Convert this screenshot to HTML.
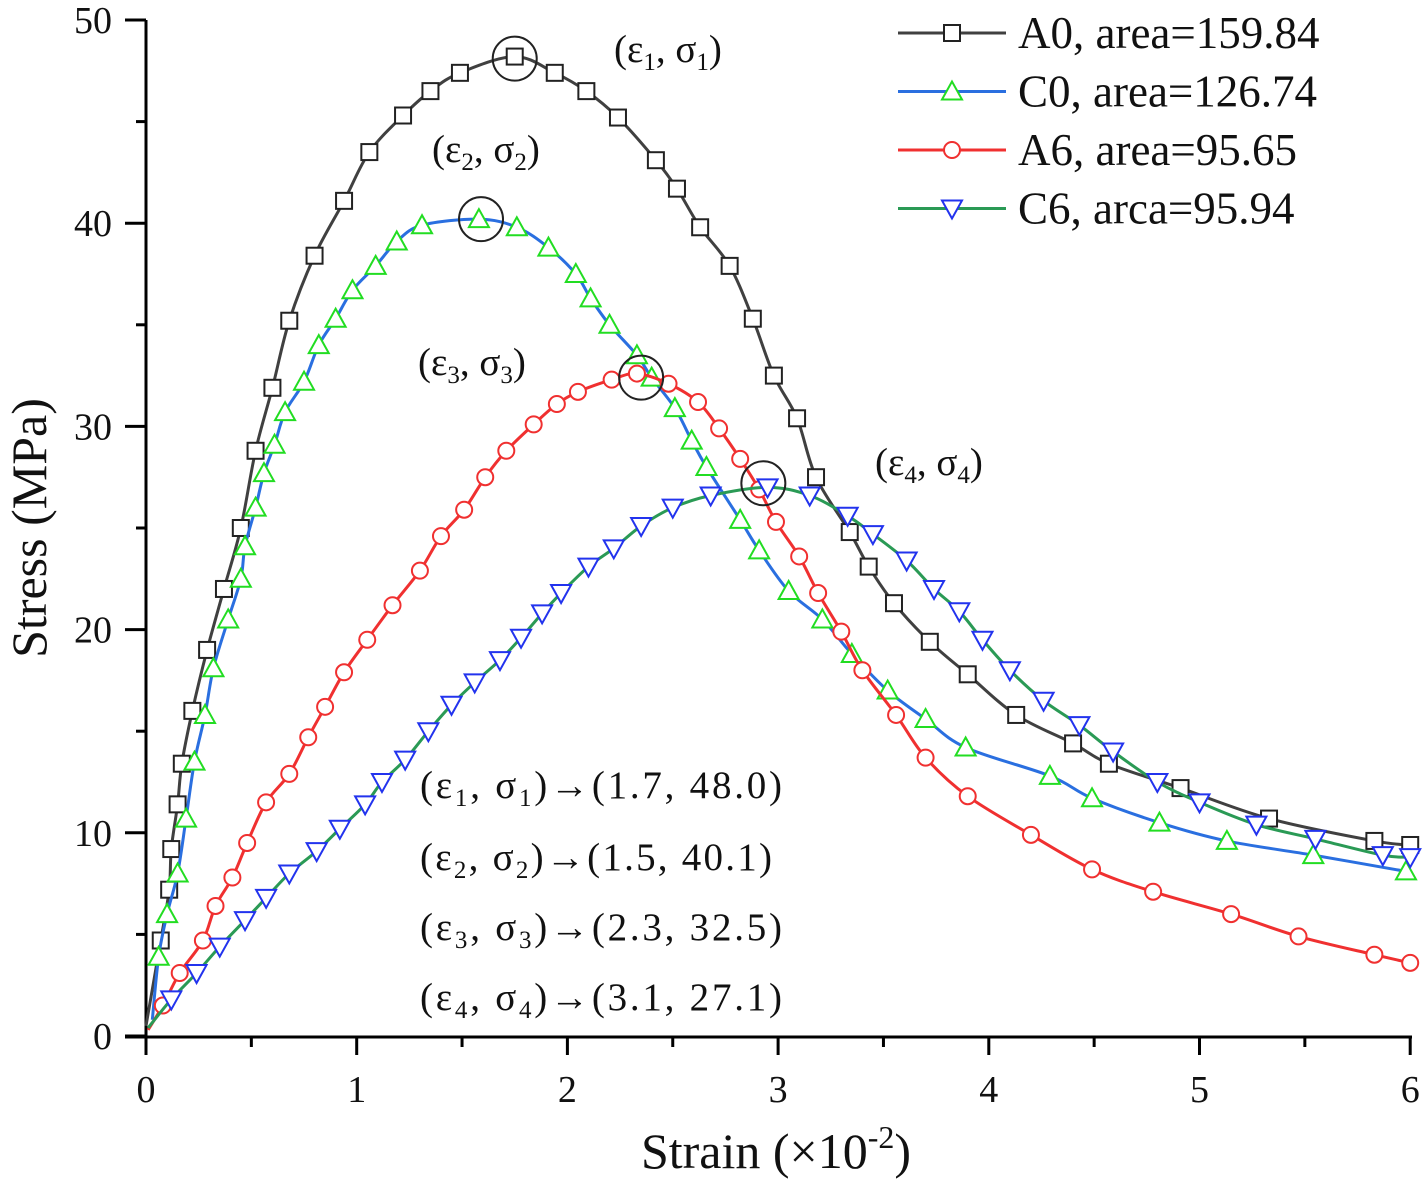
<!DOCTYPE html>
<html><head><meta charset="utf-8"><style>
body{margin:0;background:#fff}
svg text{font-family:"Liberation Serif","DejaVu Serif",serif;fill:#111}
</style></head><body>
<svg id="chart" width="1425" height="1185" viewBox="0 0 1425 1185" xmlns="http://www.w3.org/2000/svg" font-family="Liberation Serif, DejaVu Serif, serif">
<g id="axes"></g>
<g id="series"></g>
<g id="anno" font-family="Liberation Serif, serif">
<text x="614" y="62" font-size="39">(ε<tspan font-size="25" dy="8">1</tspan><tspan dy="-8">, σ</tspan><tspan font-size="25" dy="8">1</tspan><tspan dy="-8">)</tspan></text>
<text x="432" y="162" font-size="39">(ε<tspan font-size="25" dy="8">2</tspan><tspan dy="-8">, σ</tspan><tspan font-size="25" dy="8">2</tspan><tspan dy="-8">)</tspan></text>
<text x="418" y="375" font-size="39">(ε<tspan font-size="25" dy="8">3</tspan><tspan dy="-8">, σ</tspan><tspan font-size="25" dy="8">3</tspan><tspan dy="-8">)</tspan></text>
<text x="875" y="475" font-size="39">(ε<tspan font-size="25" dy="8">4</tspan><tspan dy="-8">, σ</tspan><tspan font-size="25" dy="8">4</tspan><tspan dy="-8">)</tspan></text>
<text x="420" y="798" font-size="39" textLength="362">(ε<tspan font-size="25" dy="8">1</tspan><tspan dy="-8">, σ</tspan><tspan font-size="25" dy="8">1</tspan><tspan dy="-8">)→(1.7, 48.0)</tspan></text>
<text x="420" y="870" font-size="39" textLength="352">(ε<tspan font-size="25" dy="8">2</tspan><tspan dy="-8">, σ</tspan><tspan font-size="25" dy="8">2</tspan><tspan dy="-8">)→(1.5, 40.1)</tspan></text>
<text x="420" y="940" font-size="39" textLength="362">(ε<tspan font-size="25" dy="8">3</tspan><tspan dy="-8">, σ</tspan><tspan font-size="25" dy="8">3</tspan><tspan dy="-8">)→(2.3, 32.5)</tspan></text>
<text x="420" y="1010" font-size="39" textLength="362">(ε<tspan font-size="25" dy="8">4</tspan><tspan dy="-8">, σ</tspan><tspan font-size="25" dy="8">4</tspan><tspan dy="-8">)→(3.1, 27.1)</tspan></text>
</g>
<g id="legend"></g>
</svg>
<script>
const a0X=[0,0.07,0.11,0.12,0.15,0.17,0.22,0.29,0.37,0.45,0.52,0.60,0.68,0.80,0.94,1.06,1.22,1.35,1.49,1.75,1.94,2.09,2.24,2.42,2.52,2.63,2.77,2.88,2.98,3.09,3.18,3.34,3.43,3.55,3.72,3.90,4.13,4.40,4.57,4.91,5.33,5.83,6.0];
const a0Y=[0.5,4.7,7.2,9.2,11.4,13.4,16.0,19.0,22.0,25.0,28.8,31.9,35.2,38.4,41.1,43.5,45.3,46.5,47.4,48.2,47.4,46.5,45.2,43.1,41.7,39.8,37.9,35.3,32.5,30.4,27.5,24.8,23.1,21.3,19.4,17.8,15.8,14.4,13.4,12.2,10.7,9.6,9.4];
const c0X=[0.03,0.06,0.10,0.15,0.19,0.23,0.28,0.32,0.39,0.45,0.47,0.52,0.56,0.61,0.66,0.75,0.82,0.90,0.98,1.09,1.19,1.31,1.58,1.76,1.91,2.04,2.11,2.20,2.33,2.40,2.51,2.59,2.66,2.82,2.91,3.05,3.21,3.35,3.52,3.70,3.89,4.29,4.49,4.81,5.13,5.54,5.98];
const c0Y=[0.8,3.9,6.0,8.0,10.7,13.5,15.8,18.1,20.5,22.5,24.1,26.0,27.7,29.1,30.7,32.2,34.0,35.3,36.7,37.9,39.1,39.9,40.2,39.8,38.8,37.5,36.3,35.0,33.5,32.4,30.9,29.3,28.0,25.4,23.9,21.9,20.5,18.8,17.0,15.6,14.2,12.8,11.7,10.5,9.6,8.9,8.1];
const a6X=[0.01,0.08,0.16,0.27,0.33,0.41,0.48,0.57,0.68,0.77,0.85,0.94,1.05,1.17,1.30,1.40,1.51,1.61,1.71,1.84,1.95,2.05,2.21,2.33,2.48,2.62,2.72,2.82,2.91,2.99,3.10,3.19,3.30,3.40,3.56,3.70,3.90,4.20,4.49,4.78,5.15,5.47,5.83,6.0];
const a6Y=[0.3,1.5,3.1,4.7,6.4,7.8,9.5,11.5,12.9,14.7,16.2,17.9,19.5,21.2,22.9,24.6,25.9,27.5,28.8,30.1,31.1,31.7,32.3,32.6,32.1,31.2,29.9,28.4,26.9,25.3,23.6,21.8,19.9,18.0,15.8,13.7,11.8,9.9,8.2,7.1,6.0,4.9,4.0,3.6];
const c6X=[0.01,0.12,0.24,0.35,0.47,0.57,0.68,0.81,0.92,1.04,1.12,1.23,1.34,1.45,1.56,1.68,1.78,1.88,1.97,2.10,2.22,2.35,2.50,2.68,2.95,3.15,3.33,3.45,3.61,3.74,3.86,3.97,4.10,4.26,4.43,4.59,4.80,5.00,5.27,5.55,5.87,6.0];
const c6Y=[0.4,1.8,3.1,4.4,5.7,6.8,8.0,9.1,10.2,11.4,12.5,13.6,15.0,16.3,17.4,18.5,19.6,20.8,21.8,23.1,24.0,25.1,26.0,26.6,27.0,26.6,25.6,24.7,23.4,22.0,20.9,19.5,18.0,16.5,15.3,14.0,12.5,11.5,10.4,9.7,8.9,8.8];
const peakX=[1.75,1.59,2.35,2.93];
const peakY=[48.1,40.2,32.4,27.2];
const xTicks=[0,1,2,3,4,5,6];
const yTicks=[0,10,20,30,40,50];
const legendLabels=["A0, area=159.84","C0, area=126.74","A6, area=95.65","C6, arca=95.94"];

const NS="http://www.w3.org/2000/svg";
const sx=v=>146+v*210.7, sy=v=>1036-v*20.32;
function mk(tag,attrs,parent){const e=document.createElementNS(NS,tag);for(const k in attrs)e.setAttribute(k,attrs[k]);parent.appendChild(e);return e;}
const axes=document.getElementById('axes');
let ax=mk('line',{x1:146,y1:20,x2:146,y2:1037,stroke:'#000','stroke-width':3},axes);


ax=mk('line',{x1:125,y1:1037,x2:1412,y2:1037,stroke:'#000','stroke-width':3},axes);


xTicks.forEach((t,i)=>{
 mk('line',{x1:sx(t),y1:1037,x2:sx(t),y2:1055,stroke:'#000','stroke-width':3},axes);
 if(i<xTicks.length-1)mk('line',{x1:sx(t+0.5),y1:1037,x2:sx(t+0.5),y2:1047,stroke:'#000','stroke-width':3},axes);
 const tx=mk('text',{x:sx(t),y:1102,'font-size':38,'text-anchor':'middle'},axes);tx.textContent=t;
 
 
});
yTicks.forEach((t,i)=>{
 mk('line',{x1:125,y1:sy(t),x2:146,y2:sy(t),stroke:'#000','stroke-width':3},axes);
 if(i<yTicks.length-1)mk('line',{x1:136,y1:sy(t+5),x2:146,y2:sy(t+5),stroke:'#000','stroke-width':3},axes);
 const tx=mk('text',{x:112,y:sy(t)+13,'font-size':38,'text-anchor':'end'},axes);tx.textContent=t;
 
 
});
let tt=mk('text',{x:776,y:1168,'font-size':50,'text-anchor':'middle'},axes);
tt.innerHTML='Strain (×10<tspan font-size="32" dy="-20">-2</tspan><tspan dy="20">)</tspan>';


tt=mk('text',{x:0,y:0,'font-size':50,'text-anchor':'middle',transform:'translate(46,528) rotate(-90)'},axes);
tt.textContent='Stress (MPa)';



function smooth(xs,ys){
 const p=xs.map((x,i)=>[sx(x),sy(ys[i])]);
 let d='M'+p[0][0]+','+p[0][1];
 for(let i=0;i<p.length-1;i++){
  const p0=p[i-1]||p[i],p1=p[i],p2=p[i+1],p3=p[i+2]||p2;
  const c1=[p1[0]+(p2[0]-p0[0])/6,p1[1]+(p2[1]-p0[1])/6];
  const c2=[p2[0]-(p3[0]-p1[0])/6,p2[1]-(p3[1]-p1[1])/6];
  d+=`C${c1[0]},${c1[1]} ${c2[0]},${c2[1]} ${p2[0]},${p2[1]}`;
 }
 return d;
}
function marker(type,x,y,color,g){
 if(type==='sq')return mk('rect',{x:x-8,y:y-8,width:16,height:16,fill:'#fff',stroke:color,'stroke-width':2},g);
 if(type==='ci')return mk('circle',{cx:x,cy:y,r:8,fill:'#fff',stroke:color,'stroke-width':2},g);
 if(type==='tu')return mk('polygon',{points:`${x},${y-10} ${x-10},${y+8} ${x+10},${y+8}`,fill:'#fff',stroke:color,'stroke-width':2},g);
 return mk('polygon',{points:`${x},${y+10} ${x-10},${y-8} ${x+10},${y-8}`,fill:'#fff',stroke:color,'stroke-width':2},g);
}
const series=[
 {n:'a0',xs:a0X,ys:a0Y,line:'#404040',m:'sq',mc:'#222'},
 {n:'c0',xs:c0X,ys:c0Y,line:'#2a6fe0',m:'tu',mc:'#22dd22'},
 {n:'a6',xs:a6X,ys:a6Y,line:'#f03030',m:'ci',mc:'#f03030'},
 {n:'c6',xs:c6X,ys:c6Y,line:'#2a9a55',m:'td',mc:'#2233ee'}];
const sg=document.getElementById('series');
series.forEach(s=>{
 const g=mk('g',{},sg);
 
 
 const pth=mk('path',{d:smooth(s.xs,s.ys),fill:'none',stroke:s.line,'stroke-width':3},g);
 
 
 s.xs.forEach((x,i)=>{
  if(i===0)return;
  const m=marker(s.m,sx(x),sy(s.ys[i]),s.mc,g);
  
  
 });
});
const an=document.getElementById('anno');
peakX.forEach((x,i)=>{
 const c=mk('circle',{cx:sx(x),cy:sy(peakY[i]),r:22,fill:'none',stroke:'#222','stroke-width':2},an);
 
 
});
const lg=document.getElementById('legend');
legendLabels.forEach((lab,i)=>{
 const y=33+i*58.5, s=series[i];
 const g=mk('g',{},lg);
 
 
 mk('line',{x1:898,y1:y,x2:1006,y2:y,stroke:s.line,'stroke-width':3},g);
 marker(s.m,952,y,s.mc,g);
 const t=mk('text',{x:1018,y:y+15,'font-size':45},g);t.textContent=lab;
});
</script>
</body></html>
